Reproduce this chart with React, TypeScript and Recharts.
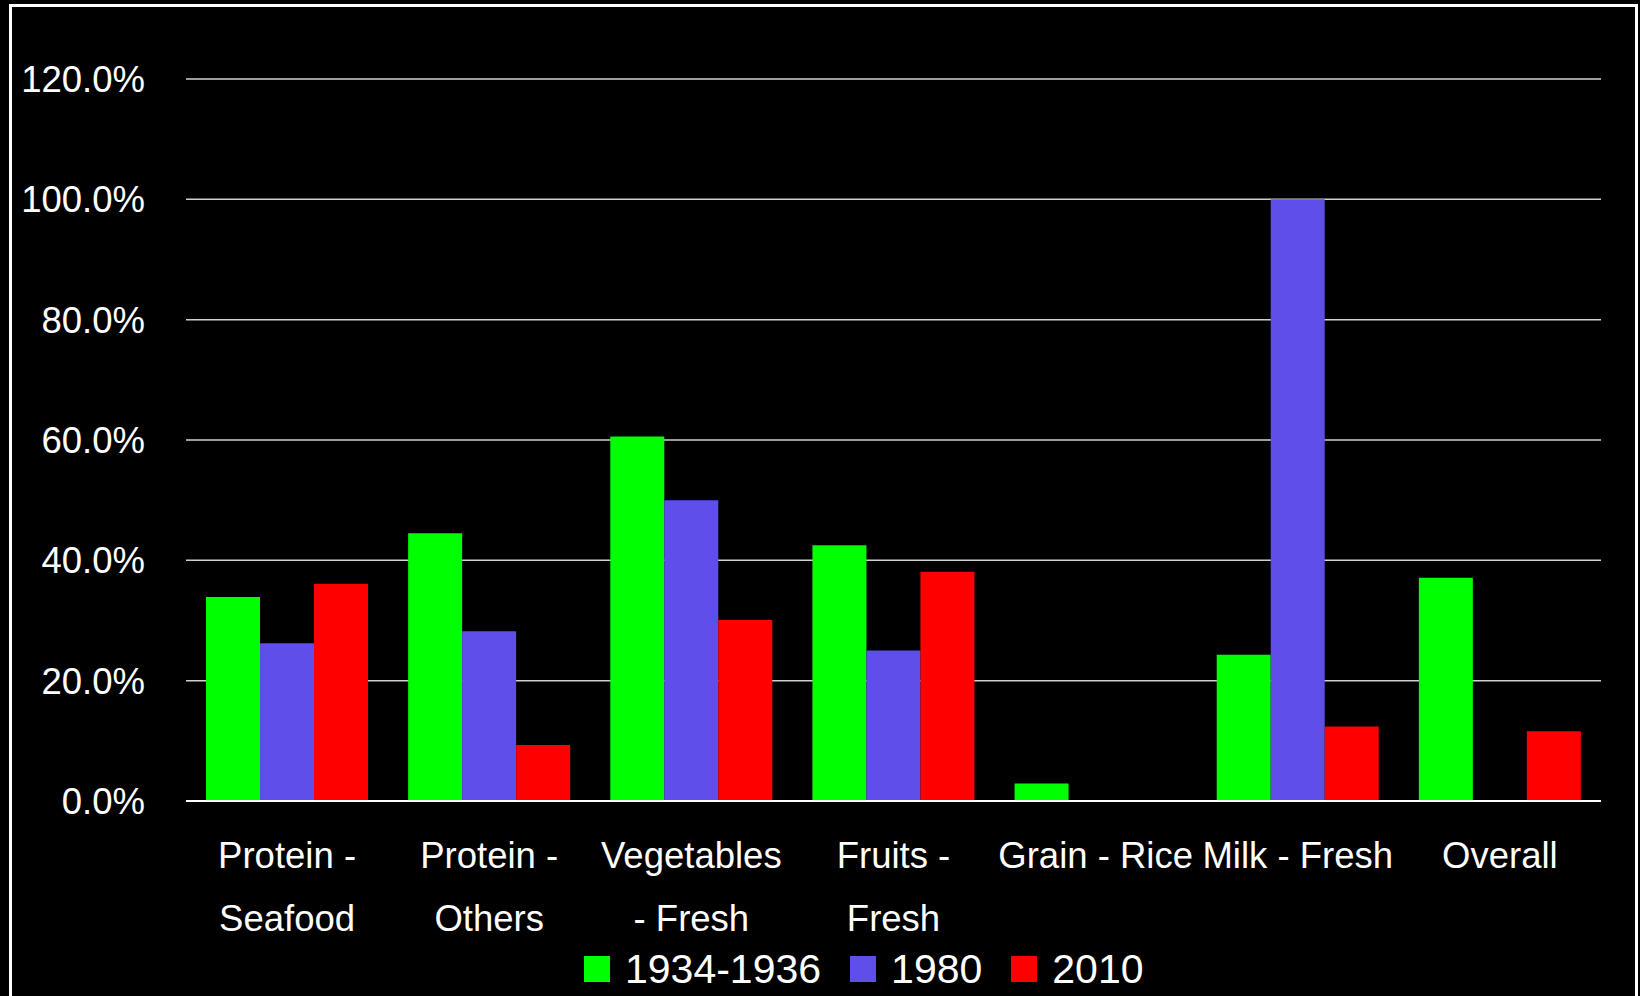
import { BarChart, Bar, XAxis, YAxis, CartesianGrid, Legend } from 'recharts'

// ── Data ──────────────────────────────────────────────────────────────────────

const categories = [
  'Protein -\nSeafood',
  'Protein -\nOthers',
  'Vegetables\n- Fresh',
  'Fruits -\nFresh',
  'Grain - Rice',
  'Milk - Fresh',
  'Overall',
]

const period1934: (number | null)[] = [33.9, 44.5, 60.6, 42.5, 2.9, 24.3, 37.1]
const period1980: (number | null)[] = [26.2, 28.2, 50.0, 25.0, null, 100.0, null]
const period2010: (number | null)[] = [36.1, 9.3, 30.1, 38.1, null, 12.4, 11.6]

const yTicks = [0, 20, 40, 60, 80, 100, 120]

const series = [
  { key: 'p1934', name: '1934-1936', color: '#00ff00' },
  { key: 'p1980', name: '1980', color: '#5e4eea' },
  { key: 'p2010', name: '2010', color: '#ff0000' },
]

const data = categories.map((label, i) => ({
  label,
  p1934: period1934[i],
  p1980: period1980[i],
  p2010: period2010[i],
}))

const FONT = '"Liberation Sans", Arial, sans-serif'

// ── Ticks / legend ────────────────────────────────────────────────────────────

function CategoryTick({ x, y, payload }: any) {
  const lines = String(payload.value).split('\n')
  return (
    <text x={x} y={y + 67} textAnchor="middle" fill="#ffffff" fontSize={36.5} fontFamily={FONT}>
      {lines.map((line, i) => (
        <tspan key={i} x={x} dy={i === 0 ? 0 : 63}>
          {line}
        </tspan>
      ))}
    </text>
  )
}

function SeriesLegend() {
  return (
    <div style={{ display: 'flex', alignItems: 'center', fontFamily: FONT, fontSize: 41, color: '#fff', lineHeight: '46px' }}>
      {series.map((s) => (
        <div key={s.key} style={{ display: 'flex', alignItems: 'center', marginRight: 29 }}>
          <span style={{ width: 26, height: 26, background: s.color, marginRight: 15, display: 'inline-block' }} />
          <span>{s.name}</span>
        </div>
      ))}
    </div>
  )
}

// ── App ───────────────────────────────────────────────────────────────────────

export default function App() {
  return (
    <div style={{ position: 'fixed', left: 0, top: 0, width: 1640, height: 996, background: '#000', overflow: 'hidden' }}>
      <div
        style={{
          position: 'absolute',
          left: 9,
          top: 4,
          width: 1623,
          height: 1100,
          border: '3px solid #fff',
        }}
      />
      <div style={{ position: 'absolute', left: 0, top: 0 }}>
        <BarChart
          width={1640}
          height={996}
          data={data}
          margin={{ top: 79, right: 39, left: 0, bottom: 0 }}
          barCategoryGap={20}
          barGap={0}
        >
          <CartesianGrid vertical={false} stroke="#d0d0d0" strokeWidth={1.5} />
          <XAxis
            dataKey="label"
            interval={0}
            height={149}
            tickLine={false}
            tickSize={0}
            tickMargin={0}
            axisLine={{ stroke: '#ffffff', strokeWidth: 2 }}
            tick={<CategoryTick />}
          />
          <YAxis
            width={186}
            domain={[0, 120]}
            ticks={yTicks}
            interval={0}
            axisLine={false}
            tickLine={false}
            tickSize={0}
            tickMargin={41}
            tickFormatter={(v: number) => `${v.toFixed(1)}%`}
            tick={{ fill: '#ffffff', fontSize: 36.5, fontFamily: FONT }}
          />
          <Legend
            verticalAlign="bottom"
            content={<SeriesLegend />}
            wrapperStyle={{ left: 584, width: 'auto', bottom: 4 }}
          />
          {series.map((s) => (
            <Bar key={s.key} dataKey={s.key} name={s.name} fill={s.color} isAnimationActive={false} />
          ))}
        </BarChart>
      </div>
    </div>
  )
}
